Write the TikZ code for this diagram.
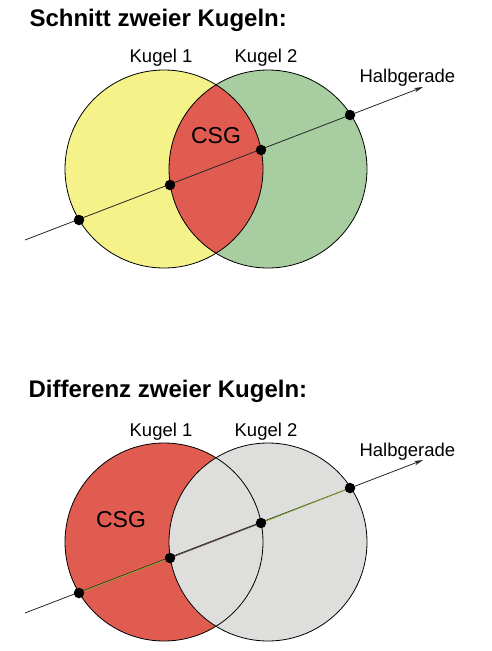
\documentclass[tikz,border=0pt]{standalone}
\usepackage{fontspec}
\setmainfont{Liberation Sans}
\usetikzlibrary{arrows.meta}

\definecolor{gelb}{HTML}{F6F28A}
\definecolor{gruen}{HTML}{A7CDA0}
\definecolor{rot}{HTML}{E05C50}
\definecolor{grau}{HTML}{DEDEDC}
\definecolor{strahlgruen}{HTML}{7FA828}
\definecolor{strahlbraun}{HTML}{503A36}

\begin{document}
\begin{tikzpicture}[x=1pt, y=-1pt,
    kugel/.style={draw=black, line width=0.8pt},
    punkt/.style={circle, fill=black, inner sep=0pt, minimum size=10.5pt},
    strahl/.style={draw=black!85, line width=0.8pt, -{Stealth[length=9pt, width=4.5pt]}},
    titel/.style={anchor=base west, font=\bfseries\fontsize{24}{28}\selectfont},
    kname/.style={anchor=base, font=\fontsize{18.5}{22}\selectfont},
    csg/.style={anchor=base, font=\fontsize{23}{27}\selectfont}]
    \useasboundingbox (0,0) rectangle (491,651);

    %Schnitt zweier Kugeln
    \node[titel] (t1) at (26,26) {Schnitt zweier Kugeln:};
    \coordinate (m1) at (164,169);
    \coordinate (m2) at (268,169);
    \fill[gelb] (m1) circle (99pt);
    \fill[gruen] (m2) circle (99pt);
    \begin{scope}
        \clip (m1) circle (99pt);
        \fill[rot] (m2) circle (99pt);
    \end{scope}
    \draw[kugel] (m1) circle (99pt);
    \draw[kugel] (m2) circle (99pt);
    \node[kname] (k1) at (161,62) {Kugel 1};
    \node[kname] (k2) at (266,62) {Kugel 2};
    \node[csg] (c1) at (216,143) {CSG};

    %Halbgerade
    \coordinate (a1) at (25,240);
    \coordinate (b1) at (423,87);
    \draw[strahl] (a1) -- (b1);
    \node[kname, anchor=base west] (h1) at (356,82) {Halbgerade};
    \node[punkt] (p1) at (79,220) {};
    \node[punkt] (p2) at (170,185) {};
    \node[punkt] (p3) at (261,150) {};
    \node[punkt] (p4) at (350,115) {};

    %Differenz zweier Kugeln
    \node[titel] (t2) at (25,397) {Differenz zweier Kugeln:};
    \coordinate (m3) at (164,542);
    \coordinate (m4) at (268,542);
    \fill[rot] (m3) circle (99pt);
    \fill[grau] (m4) circle (99pt);
    \draw[kugel] (m3) circle (99pt);
    \draw[kugel] (m4) circle (99pt);
    \node[kname] (k3) at (161,436) {Kugel 1};
    \node[kname] (k4) at (266,436) {Kugel 2};
    \node[csg] (c2) at (121,527) {CSG};

    %Halbgerade
    \coordinate (a2) at (25,613);
    \coordinate (b2) at (423,460);
    \draw[strahl] (a2) -- (b2);
    \node[kname, anchor=base west] (h2) at (356,456) {Halbgerade};
    \draw[strahlgruen, line width=0.8pt] (79,593) -- (170,558);
    \draw[strahlbraun, line width=0.8pt] (170,558) -- (261,523);
    \draw[strahlgruen, line width=0.8pt] (261,523) -- (350,488);
    \node[punkt] (p5) at (79,593) {};
    \node[punkt] (p6) at (170,558) {};
    \node[punkt] (p7) at (261,523) {};
    \node[punkt] (p8) at (350,488) {};
\end{tikzpicture}
\end{document}
